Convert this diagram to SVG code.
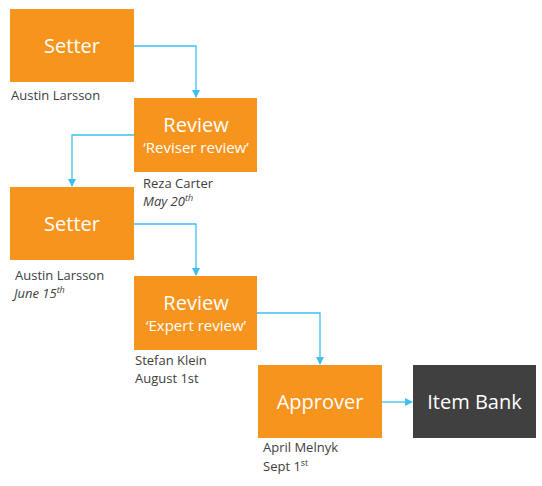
<svg xmlns="http://www.w3.org/2000/svg" width="542" height="486" viewBox="0 0 542 486">
<defs>
<marker id="ah" markerWidth="8" markerHeight="8" refX="7" refY="4" orient="auto" markerUnits="userSpaceOnUse">
<path d="M0,0 L8,4 L0,8 Z" fill="#3DBFEF"/>
</marker>
<style>
.box{fill:#F7941D}
.dark{fill:#404040}
.t{font-family:"Open Sans","Noto Sans",sans-serif;fill:#fff;text-anchor:middle}
.big{font-size:20px}
.sub{font-size:15px}
.lbl{font-family:"Open Sans","Noto Sans",sans-serif;font-size:13px;fill:#404040}
.it{font-style:italic}
.c{fill:none;stroke:#3DBFEF;stroke-width:1.3}
</style>
</defs>
<rect width="542" height="486" fill="#fff"/>
<g id="connectors">
<path class="c" d="M134,46 H196 V97" marker-end="url(#ah)"/>
<path class="c" d="M134,135 H72 V186" marker-end="url(#ah)"/>
<path class="c" d="M134,224 H196 V275" marker-end="url(#ah)"/>
<path class="c" d="M257,313 H320 V364" marker-end="url(#ah)"/>
<path class="c" d="M382,402 H412" marker-end="url(#ah)"/>
</g>
<g id="setter1">
<rect class="box" x="10" y="9" width="124" height="73"/>
<text class="t big" x="72" y="53">Setter</text>
<text class="lbl" x="11" y="100">Austin Larsson</text>
</g>
<g id="review1">
<rect class="box" x="134" y="98" width="123" height="74"/>
<text class="t big" x="196" y="132">Review</text>
<text class="t sub" x="196" y="153">‘Reviser review’</text>
<text class="lbl" x="143" y="188">Reza Carter</text>
<text class="lbl it" x="143" y="206">May 20<tspan font-size="9" dy="-5">th</tspan></text>
</g>
<g id="setter2">
<rect class="box" x="10" y="187" width="124" height="73"/>
<text class="t big" x="72" y="231">Setter</text>
<text class="lbl" x="15" y="280">Austin Larsson</text>
<text class="lbl it" x="14" y="298">June 15<tspan font-size="9" dy="-5">th</tspan></text>
</g>
<g id="review2">
<rect class="box" x="134" y="276" width="123" height="74"/>
<text class="t big" x="196" y="310">Review</text>
<text class="t sub" x="196" y="331">‘Expert review’</text>
<text class="lbl" x="135" y="365">Stefan Klein</text>
<text class="lbl" x="135" y="383">August 1st</text>
</g>
<g id="approver">
<rect class="box" x="258" y="365" width="124" height="73"/>
<text class="t big" x="320" y="409">Approver</text>
<text class="lbl" x="263" y="452">April Melnyk</text>
<text class="lbl" x="263" y="471">Sept 1<tspan font-size="9" dy="-5">st</tspan></text>
</g>
<g id="itembank">
<rect class="dark" x="413" y="365" width="123" height="73"/>
<text class="t big" x="474.5" y="409">Item Bank</text>
</g>
</svg>
